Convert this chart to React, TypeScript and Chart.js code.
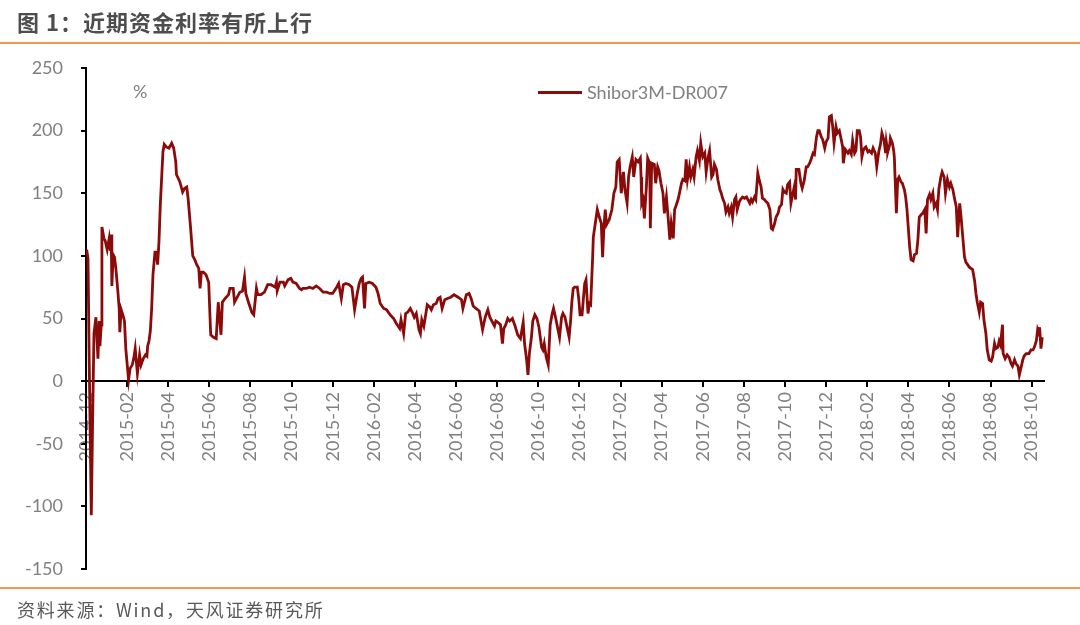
import React, { useEffect, useRef } from 'react';
import { Chart, registerables } from 'chart.js';

Chart.register(...registerables);

const titleText = '图 1：近期资金利率有所上行';
const sourceText = '资料来源：Wind，天风证券研究所';
const seriesName = 'Shibor3M-DR007';
const unitLabel = '%';

const xTickLabels = [
  '2014-12', '2015-02', '2015-04', '2015-06', '2015-08', '2015-10', '2015-12',
  '2016-02', '2016-04', '2016-06', '2016-08', '2016-10', '2016-12',
  '2017-02', '2017-04', '2017-06', '2017-08', '2017-10', '2017-12',
  '2018-02', '2018-04', '2018-06', '2018-08', '2018-10',
];

const yMin = -150;
const yMax = 250;
const yStep = 50;

const dates: string[] = [
  '2014-12-02', '2014-12-04', '2014-12-06', '2014-12-09', '2014-12-11', '2014-12-13', '2014-12-16', '2014-12-19', '2014-12-21', '2014-12-22', '2014-12-24', '2014-12-25', '2014-12-28', '2014-12-30',
  '2015-01-02', '2015-01-05', '2015-01-07', '2015-01-08', '2015-01-09', '2015-01-11', '2015-01-13', '2015-01-15', '2015-01-18', '2015-01-20', '2015-01-21', '2015-01-23', '2015-01-26', '2015-01-28', '2015-01-30',
  '2015-02-03', '2015-02-05', '2015-02-08', '2015-02-10', '2015-02-12', '2015-02-15', '2015-02-18', '2015-02-20', '2015-02-23', '2015-02-26', '2015-02-28',
  '2015-03-01', '2015-03-03', '2015-03-05', '2015-03-07', '2015-03-09', '2015-03-12', '2015-03-14', '2015-03-16', '2015-03-18', '2015-03-20', '2015-03-24', '2015-03-26', '2015-03-29',
  '2015-04-02', '2015-04-06', '2015-04-09', '2015-04-12', '2015-04-13', '2015-04-18', '2015-04-22', '2015-04-25', '2015-04-28', '2015-04-30',
  '2015-05-03', '2015-05-07', '2015-05-10', '2015-05-13', '2015-05-16', '2015-05-18', '2015-05-20', '2015-05-23', '2015-05-27', '2015-05-31',
  '2015-06-03', '2015-06-07', '2015-06-11', '2015-06-14', '2015-06-18', '2015-06-20', '2015-06-24', '2015-06-29',
  '2015-07-01', '2015-07-06', '2015-07-08', '2015-07-12', '2015-07-16', '2015-07-20', '2015-07-23', '2015-07-25', '2015-07-29',
  '2015-08-03', '2015-08-06', '2015-08-10', '2015-08-12', '2015-08-17', '2015-08-22', '2015-08-27',
  '2015-09-01', '2015-09-07', '2015-09-09', '2015-09-10', '2015-09-14', '2015-09-19', '2015-09-21', '2015-09-26', '2015-09-30',
  '2015-10-03', '2015-10-08', '2015-10-13', '2015-10-16', '2015-10-18', '2015-10-23', '2015-10-28',
  '2015-11-02', '2015-11-07', '2015-11-12', '2015-11-17', '2015-11-22', '2015-11-27',
  '2015-12-01', '2015-12-07', '2015-12-10', '2015-12-14', '2015-12-17', '2015-12-21', '2015-12-26', '2015-12-30',
  '2016-01-03', '2016-01-07', '2016-01-10', '2016-01-13', '2016-01-15', '2016-01-18', '2016-01-20', '2016-01-25', '2016-01-30',
  '2016-02-04', '2016-02-07', '2016-02-10', '2016-02-15', '2016-02-19', '2016-02-24', '2016-02-29',
  '2016-03-04', '2016-03-09', '2016-03-11', '2016-03-15', '2016-03-18', '2016-03-21', '2016-03-25', '2016-03-28', '2016-03-31',
  '2016-04-03', '2016-04-07', '2016-04-09', '2016-04-11', '2016-04-14', '2016-04-17', '2016-04-19', '2016-04-23', '2016-04-25', '2016-04-28',
  '2016-05-02', '2016-05-05', '2016-05-08', '2016-05-11', '2016-05-15', '2016-05-19', '2016-05-24', '2016-05-29',
  '2016-06-04', '2016-06-09', '2016-06-11', '2016-06-16', '2016-06-20', '2016-06-23', '2016-06-26', '2016-06-30',
  '2016-07-05', '2016-07-08', '2016-07-10', '2016-07-14', '2016-07-18', '2016-07-21', '2016-07-25', '2016-07-28', '2016-07-30',
  '2016-08-02', '2016-08-06', '2016-08-09', '2016-08-11', '2016-08-14', '2016-08-17', '2016-08-20', '2016-08-24', '2016-08-28',
  '2016-09-01', '2016-09-05', '2016-09-09', '2016-09-11', '2016-09-14', '2016-09-16', '2016-09-18', '2016-09-21', '2016-09-23', '2016-09-26', '2016-09-29',
  '2016-10-02', '2016-10-06', '2016-10-08', '2016-10-10', '2016-10-13', '2016-10-16', '2016-10-19', '2016-10-22', '2016-10-24', '2016-10-27', '2016-10-30',
  '2016-11-02', '2016-11-05', '2016-11-07', '2016-11-10', '2016-11-13', '2016-11-16', '2016-11-18', '2016-11-20', '2016-11-22', '2016-11-24', '2016-11-28', '2016-11-30',
  '2016-12-02', '2016-12-05', '2016-12-09', '2016-12-11', '2016-12-14', '2016-12-16', '2016-12-18', '2016-12-21', '2016-12-22', '2016-12-25', '2016-12-28', '2016-12-31',
  '2017-01-03', '2017-01-05', '2017-01-07', '2017-01-09', '2017-01-11', '2017-01-15', '2017-01-19', '2017-01-22', '2017-01-25', '2017-01-27', '2017-01-30',
  '2017-02-02', '2017-02-05', '2017-02-07', '2017-02-10', '2017-02-12', '2017-02-14', '2017-02-17', '2017-02-19', '2017-02-22', '2017-02-25', '2017-02-28',
  '2017-03-01', '2017-03-02', '2017-03-04', '2017-03-06', '2017-03-09', '2017-03-11', '2017-03-14', '2017-03-15', '2017-03-17', '2017-03-21', '2017-03-23', '2017-03-26', '2017-03-28', '2017-03-31',
  '2017-04-03', '2017-04-05', '2017-04-08', '2017-04-10', '2017-04-13', '2017-04-15', '2017-04-18', '2017-04-20', '2017-04-22', '2017-04-25', '2017-04-27', '2017-04-30',
  '2017-05-02', '2017-05-05', '2017-05-07', '2017-05-09', '2017-05-12', '2017-05-14', '2017-05-17', '2017-05-19', '2017-05-22', '2017-05-24', '2017-05-27', '2017-05-29',
  '2017-06-01', '2017-06-04', '2017-06-06', '2017-06-09', '2017-06-11', '2017-06-14', '2017-06-16', '2017-06-18', '2017-06-21', '2017-06-23', '2017-06-26', '2017-06-28', '2017-06-30',
  '2017-07-03', '2017-07-05', '2017-07-08', '2017-07-10', '2017-07-13', '2017-07-15', '2017-07-18', '2017-07-20', '2017-07-22', '2017-07-25', '2017-07-27', '2017-07-30',
  '2017-08-02', '2017-08-05', '2017-08-07', '2017-08-10', '2017-08-12', '2017-08-14', '2017-08-17', '2017-08-19', '2017-08-22', '2017-08-24', '2017-08-27', '2017-08-29',
  '2017-09-01', '2017-09-04', '2017-09-06', '2017-09-09', '2017-09-11', '2017-09-13', '2017-09-16', '2017-09-18', '2017-09-21', '2017-09-23', '2017-09-26', '2017-09-28', '2017-09-30',
  '2017-10-03', '2017-10-05', '2017-10-08', '2017-10-10', '2017-10-13', '2017-10-15', '2017-10-17', '2017-10-18', '2017-10-22', '2017-10-25', '2017-10-27', '2017-10-30',
  '2017-11-02', '2017-11-04', '2017-11-07', '2017-11-09', '2017-11-12', '2017-11-14', '2017-11-17', '2017-11-19', '2017-11-21', '2017-11-24', '2017-11-26', '2017-11-29',
  '2017-12-01', '2017-12-04', '2017-12-06', '2017-12-09', '2017-12-11', '2017-12-13', '2017-12-16', '2017-12-18', '2017-12-21', '2017-12-23', '2017-12-26', '2017-12-27', '2017-12-30',
  '2018-01-03', '2018-01-05', '2018-01-08', '2018-01-10', '2018-01-13', '2018-01-15', '2018-01-17', '2018-01-20', '2018-01-22', '2018-01-24', '2018-01-26', '2018-01-28', '2018-01-30',
  '2018-02-02', '2018-02-04', '2018-02-07', '2018-02-09', '2018-02-12', '2018-02-14', '2018-02-17', '2018-02-19', '2018-02-21', '2018-02-24', '2018-02-26', '2018-02-27', '2018-02-28',
  '2018-03-01', '2018-03-04', '2018-03-05', '2018-03-08', '2018-03-10', '2018-03-11', '2018-03-12', '2018-03-14', '2018-03-16', '2018-03-18', '2018-03-21', '2018-03-23', '2018-03-26', '2018-03-28', '2018-03-30',
  '2018-04-03', '2018-04-05', '2018-04-08', '2018-04-10', '2018-04-13', '2018-04-15', '2018-04-17', '2018-04-20', '2018-04-22', '2018-04-25', '2018-04-27', '2018-04-29',
  '2018-05-02', '2018-05-04', '2018-05-07', '2018-05-09', '2018-05-12', '2018-05-14', '2018-05-16', '2018-05-19', '2018-05-21', '2018-05-24', '2018-05-26', '2018-05-29',
  '2018-06-01', '2018-06-03', '2018-06-06', '2018-06-08', '2018-06-11', '2018-06-13', '2018-06-16', '2018-06-18', '2018-06-20', '2018-06-23', '2018-06-25', '2018-06-30',
  '2018-07-05', '2018-07-08', '2018-07-10', '2018-07-12', '2018-07-15', '2018-07-17', '2018-07-20', '2018-07-22', '2018-07-25', '2018-07-27', '2018-07-30',
  '2018-08-02', '2018-08-04', '2018-08-07', '2018-08-09', '2018-08-12', '2018-08-14', '2018-08-16', '2018-08-19', '2018-08-20', '2018-08-23', '2018-08-26', '2018-08-29',
  '2018-09-01', '2018-09-03', '2018-09-06', '2018-09-08', '2018-09-11', '2018-09-13', '2018-09-16', '2018-09-18', '2018-09-20', '2018-09-23', '2018-09-27', '2018-09-30',
  '2018-10-03', '2018-10-05', '2018-10-08', '2018-10-10', '2018-10-12', '2018-10-13', '2018-10-15', '2018-10-17',
];

const values: number[] = [
  105, 98, 10, -107, -30, 38, 51, 18, 48, 28, 45, 123, 114, 112,
  105, 114, 104, 117, 76, 101, 99, 90, 72, 58, 39, 57, 52, 48, 26,
  1, 10, 13, 18, 26, 6, 21, 13, 18, 21, 20,
  28, 32, 40, 58, 85, 103, 103, 93, 111, 140, 183, 189, 187,
  186, 190, 186, 175, 165, 159, 151, 154, 155, 146,
  127, 100, 97, 93, 90, 74, 87, 87, 85, 79,
  37, 35, 34, 63, 37, 63, 66, 69,
  74, 74, 63, 67, 71, 72, 83, 70, 63,
  55, 53, 74, 69, 69, 71, 77,
  77, 75, 79, 72, 79, 79, 76, 81, 82,
  79, 78, 74, 73, 74, 74, 75,
  74, 76, 74, 71, 71, 70,
  70, 75, 78, 66, 77, 78, 77, 75,
  57, 70, 78, 82, 83, 58, 78, 79, 78,
  75, 70, 62, 58, 57, 53, 50,
  46, 42, 49, 38, 54, 55, 58, 55, 51,
  54, 41, 38, 49, 44, 54, 61, 59, 57, 61,
  62, 66, 67, 58, 65, 66, 67, 69,
  67, 65, 58, 69, 70, 66, 60, 58,
  56, 47, 41, 51, 57, 51, 47, 44, 48,
  47, 45, 30, 42, 45, 50, 48, 50, 44,
  37, 34, 47, 30, 17, 5, 22, 35, 48, 53, 50,
  43, 27, 25, 30, 19, 13, 45, 54, 58, 51, 43,
  35, 51, 54, 51, 43, 35, 47, 63, 74, 75, 75, 66,
  53, 53, 78, 81, 54, 62, 61, 99, 115, 126, 137, 131,
  126, 99, 123, 137, 125, 129, 137, 150, 155, 175, 177,
  150, 167, 153, 142, 163, 171, 179, 163, 177, 175, 178,
  163, 142, 145, 130, 155, 178, 174, 122, 174, 173, 158, 171, 168, 158,
  150, 134, 147, 134, 113, 126, 114, 137, 140, 145, 150, 158,
  161, 160, 177, 161, 171, 163, 169, 163, 179, 184, 176, 190,
  179, 182, 167, 179, 184, 163, 165, 173, 169, 161, 153, 150, 146,
  142, 135, 139, 134, 139, 131, 145, 147, 137, 143, 145, 147,
  146, 147, 145, 142, 145, 143, 147, 145, 166, 161, 155, 146,
  145, 143, 142, 137, 122, 121, 126, 131, 134, 139, 141, 153, 151,
  150, 157, 159, 142, 150, 155, 145, 169, 169, 158, 154, 160,
  171, 171, 174, 177, 182, 181, 195, 200, 200, 195, 193, 186,
  191, 194, 211, 212, 203, 190, 203, 198, 200, 195, 187, 174, 185,
  182, 184, 181, 192, 182, 184, 200, 200, 195, 179, 184, 186, 187,
  183, 184, 182, 186, 182, 171, 184, 189, 198, 192, 182, 191, 187,
  183, 189, 194, 190, 184, 178, 163, 134, 161, 163, 159, 158, 153, 147, 137,
  107, 97, 96, 101, 102, 113, 131, 133, 134, 137, 118, 145,
  149, 145, 150, 139, 142, 137, 153, 163, 167, 163, 150, 161,
  155, 158, 153, 147, 139, 115, 142, 131, 118, 99, 95, 91,
  89, 80, 70, 63, 55, 63, 62, 49, 38, 25, 17,
  16, 19, 30, 26, 27, 32, 29, 45, 22, 18, 21, 19,
  14, 12, 17, 14, 12, 5, 12, 17, 20, 22, 22, 25,
  25, 27, 32, 41, 38, 43, 26, 35,
];

const LINE_COLOR = '#8B0A0A';
const TICK_COLOR = '#808080';
const ORANGE = '#EE9A4D';

// months elapsed since 2014-12-01 (x position on the date axis)
function monthIndex(d: string): number {
  const [y, m, day] = d.split('-').map(Number);
  const dim = new Date(y, m, 0).getDate();
  return (y - 2014) * 12 + (m - 12) + (day - 1) / dim;
}

export default function App() {
  const canvasRef = useRef<HTMLCanvasElement | null>(null);

  useEffect(() => {
    const canvas = canvasRef.current;
    if (!canvas) return;
    const points = dates.map((d, i) => ({ x: monthIndex(d), y: values[i] }));
    const chart = new Chart(canvas, {
      type: 'line',
      data: {
        datasets: [
          {
            label: seriesName,
            data: points,
            borderColor: LINE_COLOR,
            backgroundColor: LINE_COLOR,
            borderWidth: 2.8,
            pointRadius: 0,
            tension: 0,
            fill: false,
          },
        ],
      },
      options: {
        responsive: false,
        animation: false,
        devicePixelRatio: 1,
        layout: { padding: { left: 0, right: 36, top: 68, bottom: 56 } },
        plugins: {
          legend: { display: false },
          tooltip: { enabled: false },
        },
        scales: {
          x: {
            type: 'linear',
            position: { y: 0 } as any,
            min: 0,
            max: 46.6,
            grid: {
              drawOnChartArea: false,
              drawTicks: true,
              tickLength: 5,
              color: '#000',
              lineWidth: 2,
            },
            border: { display: true, color: '#000', width: 2 },
            ticks: {
              stepSize: 2,
              includeBounds: false,
              autoSkip: false,
              maxRotation: 90,
              minRotation: 90,
              padding: 6,
              color: TICK_COLOR,
              font: { family: 'Lato', size: 18 },
              callback: (v: any) => {
                const idx = Math.round(Number(v) / 2);
                return xTickLabels[idx] ?? '';
              },
            },
          },
          y: {
            type: 'linear',
            position: 'left',
            min: yMin,
            max: yMax,
            afterFit: (s: any) => {
              s.width = 86;
            },
            grid: {
              drawOnChartArea: false,
              drawTicks: true,
              tickLength: 5,
              color: '#000',
              lineWidth: 2,
            },
            border: { display: true, color: '#000', width: 2 },
            ticks: {
              stepSize: yStep,
              padding: 18,
              color: TICK_COLOR,
              font: { family: 'Lato', size: 18 },
            },
          },
        },
      },
    });
    return () => chart.destroy();
  }, []);

  return (
    <div
      style={{
        position: 'fixed',
        left: 0,
        top: 0,
        width: 1080,
        height: 625,
        background: '#fff',
        overflow: 'hidden',
      }}
    >
      <canvas
        ref={canvasRef}
        width={1080}
        height={625}
        style={{ position: 'absolute', left: 0, top: 0, width: 1080, height: 625 }}
      />
      <div
        style={{
          position: 'absolute',
          left: 17,
          top: 8,
          fontFamily: '"Noto Sans CJK SC", sans-serif',
          fontWeight: 700,
          fontSize: 22,
          lineHeight: '26px',
          letterSpacing: 1,
          color: '#4d4d4d',
          whiteSpace: 'nowrap',
        }}
      >
        {titleText}
      </div>
      <div style={{ position: 'absolute', left: 0, top: 42, width: 1080, height: 2, background: ORANGE }} />
      <div style={{ position: 'absolute', left: 0, top: 587, width: 1080, height: 2, background: ORANGE }} />
      <div
        style={{
          position: 'absolute',
          left: 17,
          top: 597,
          fontFamily: '"Noto Sans CJK SC", sans-serif',
          fontSize: 18,
          lineHeight: '24px',
          letterSpacing: 1.8,
          color: '#595959',
          whiteSpace: 'nowrap',
        }}
      >
        {sourceText}
      </div>
      <div
        style={{
          position: 'absolute',
          left: 133,
          top: 80,
          fontFamily: 'Lato, sans-serif',
          fontSize: 18,
          lineHeight: '22px',
          color: TICK_COLOR,
        }}
      >
        {unitLabel}
      </div>
      <div style={{ position: 'absolute', left: 538, top: 91, width: 44, height: 3, background: LINE_COLOR }} />
      <div
        style={{
          position: 'absolute',
          left: 587,
          top: 81,
          fontFamily: 'Lato, sans-serif',
          fontSize: 18,
          lineHeight: '22px',
          color: TICK_COLOR,
          whiteSpace: 'nowrap',
        }}
      >
        {seriesName}
      </div>
    </div>
  );
}
